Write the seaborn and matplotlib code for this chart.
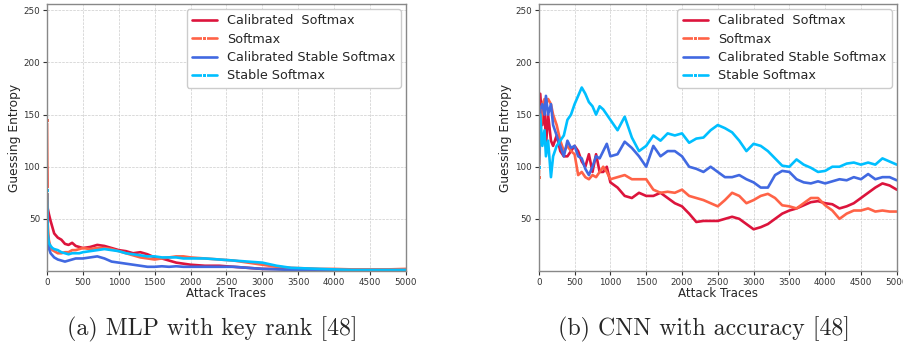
import matplotlib
matplotlib.use("Agg")
import matplotlib.pyplot as plt
import seaborn as sns
import pandas as pd

# ---- data -------------------------------------------------------------
series_names = ["Calibrated  Softmax", "Softmax", "Calibrated Stable Softmax", "Stable Softmax"]
series_colors = ["#DC143C", "#FF6347", "#4169E1", "#00BFFF"]
series_markers = [None, "s", None, "s"]

# (a) MLP with key rank
mlp_traces = [0, 10, 25, 50, 75, 100, 150, 200, 250, 300, 350, 400, 450, 500,
              600, 700, 800, 900, 1000, 1100, 1200, 1300, 1400, 1500, 1600, 1700,
              1800, 1900, 2000, 2200, 2400, 2600, 2800, 3000, 3200, 3400, 3600,
              3800, 4000, 4250, 4500, 4750, 5000]
mlp_cal_softmax = [100, 60, 55, 48, 42, 36, 32, 30, 26, 25, 27, 24, 23, 22,
                   23, 25, 24, 22, 20, 19, 17, 18, 16, 13, 12, 10,
                   8, 7, 6, 5, 5, 4, 3, 2, 2, 1.5, 1,
                   1, 1, 1, 1, 1, 1]
mlp_softmax = [145, 45, 30, 22, 20, 19, 17, 17, 18, 18, 20, 20, 21, 22,
               21, 22, 22, 21, 19, 17, 15, 13, 12, 11, 12, 13,
               14, 14, 13, 12, 11, 10, 8, 6, 4, 3, 2.5,
               2, 2, 1.5, 1.5, 1.5, 2]
mlp_cal_stable = [60, 35, 22, 17, 15, 13, 11, 10, 9, 10, 11, 12, 12, 12,
                  13, 14, 12, 9, 8, 7, 6, 5, 4, 4, 4.5, 4,
                  4.5, 4, 4, 4, 4, 4, 3, 2, 1.5, 1, 0.8,
                  0.5, 0.5, 0.5, 0.5, 0.5, 0.5]
mlp_stable = [78, 35, 27, 24, 22, 21, 20, 18, 17, 16, 17, 17, 17, 18,
              19, 20, 21, 20, 19, 17, 16, 15, 14, 14, 13, 13,
              13, 12, 12, 12, 11, 10, 9, 8, 5, 3, 2.5,
              2, 1.5, 1, 1, 1, 1]

# (b) CNN with accuracy
cnn_traces = [0, 20, 50, 80, 100, 130, 170, 200,
              250, 300, 350, 400, 450, 500, 550, 600, 650, 700, 750, 800,
              850, 900, 950, 1000,
              1100, 1200, 1300, 1400, 1500, 1600, 1700, 1800, 1900, 2000,
              2100, 2200, 2300, 2400, 2500, 2600, 2700, 2800, 2900, 3000,
              3100, 3200, 3300, 3400, 3500, 3600, 3700, 3800, 3900, 4000,
              4100, 4200, 4300, 4400, 4500, 4600, 4700, 4800, 4900, 5000]
cnn_cal_softmax = [100, 170, 140, 160, 120, 150, 125, 120,
                   130, 115, 110, 110, 115, 120, 115, 105, 100, 112, 95, 112,
                   95, 95, 100, 85,
                   80, 72, 70, 75, 72, 72, 75, 70, 65, 62,
                   55, 47, 48, 48, 48, 50, 52, 50, 45, 40,
                   42, 45, 50, 55, 58, 60, 63, 66, 67, 65,
                   64, 60, 62, 65, 70, 75, 80, 84, 82, 78]
cnn_softmax = [90, 130, 160, 165, 160, 165, 160, 150,
               140, 125, 115, 120, 115, 112, 92, 95, 90, 88, 92, 90,
               95, 100, 95, 88,
               90, 92, 88, 88, 88, 78, 75, 76, 75, 78,
               72, 70, 68, 65, 62, 68, 75, 72, 65, 68,
               72, 74, 70, 63, 62, 60, 65, 70, 70, 63,
               58, 50, 55, 58, 58, 60, 57, 58, 57, 57]
cnn_cal_stable = [110, 155, 160, 150, 168, 150, 160, 140,
                  130, 120, 110, 125, 118, 120, 110, 108, 98, 92, 100, 110,
                  108, 115, 122, 110,
                  112, 124, 118, 110, 100, 120, 110, 115, 115, 110,
                  100, 98, 95, 100, 95, 90, 90, 92, 88, 85,
                  80, 80, 92, 96, 95, 88, 85, 84, 86, 84,
                  86, 88, 87, 90, 88, 93, 88, 90, 90, 87]
cnn_stable = [100, 150, 120, 135, 110, 125, 90, 110,
              120, 125, 130, 145, 150, 160, 168, 176, 170, 162, 158, 150,
              158, 155, 150, 145,
              135, 148, 128, 115, 120, 130, 125, 132, 130, 132,
              123, 127, 128, 135, 140, 137, 133, 125, 115, 122,
              120, 115, 108, 101, 100, 107, 102, 99, 95, 96,
              100, 100, 103, 104, 102, 104, 102, 108, 105, 102]

x_ticks = list(range(0, 5001, 500))
y_ticks = [50, 100, 150, 200, 250]
captions = ["(a) MLP with key rank [48]", "(b) CNN with accuracy [48]"]

panels = [
    (mlp_traces, [mlp_cal_softmax, mlp_softmax, mlp_cal_stable, mlp_stable]),
    (cnn_traces, [cnn_cal_softmax, cnn_softmax, cnn_cal_stable, cnn_stable]),
]

# ---- figure -----------------------------------------------------------
sns.set_style("ticks")
plt.rcParams["font.family"] = ["DejaVu Sans"]

fig = plt.figure(figsize=(9.04, 3.43), dpi=100)
ax_boxes = [[0.052, 0.210, 0.397, 0.778], [0.596, 0.210, 0.396, 0.778]]
caption_x = [212 / 904, 704 / 904]

for box, (traces, values), cap, cx in zip(ax_boxes, panels, captions, caption_x):
    ax = fig.add_axes(box)
    for name, vals, color, mk in zip(series_names, values, series_colors, series_markers):
        df = pd.DataFrame({"Attack Traces": traces, "Guessing Entropy": vals})
        kw = dict(marker=mk, markersize=2.5, markevery=[0]) if mk else {}
        sns.lineplot(data=df, x="Attack Traces", y="Guessing Entropy", ax=ax,
                     color=color, linewidth=1.9, label=name, **kw)
    ax.set_xlim(0, 5000)
    ax.set_ylim(0, 256)
    ax.set_xticks(x_ticks)
    ax.set_yticks(y_ticks)
    ax.tick_params(labelsize=6.3, length=3, width=0.8, pad=2, colors="#333333")
    ax.set_xlabel("Attack Traces", fontsize=8.6, labelpad=0)
    ax.set_ylabel("Guessing Entropy", fontsize=8.8, labelpad=2)
    ax.grid(True, linestyle="--", linewidth=0.5, color="#cccccc")
    for sp in ax.spines.values():
        sp.set_visible(True)
        sp.set_color("#888888")
        sp.set_linewidth(1.0)
    leg = ax.legend(loc="upper right", fontsize=9.2, frameon=True, borderaxespad=0.4,
                    handlelength=2.0, labelspacing=0.42, borderpad=0.4,
                    edgecolor="#cccccc", framealpha=1.0)
    # centre the square marker on the legend handles
    for h in leg.get_lines():
        if h.get_marker() not in (None, "None", ""):
            h.set_markevery([1])
            h.set_markersize(3)
    fig.text(cx, 0.022, cap, ha="center", va="baseline", fontsize=17.2,
             family="cmr10")

fig.savefig("out.png", dpi=100)
